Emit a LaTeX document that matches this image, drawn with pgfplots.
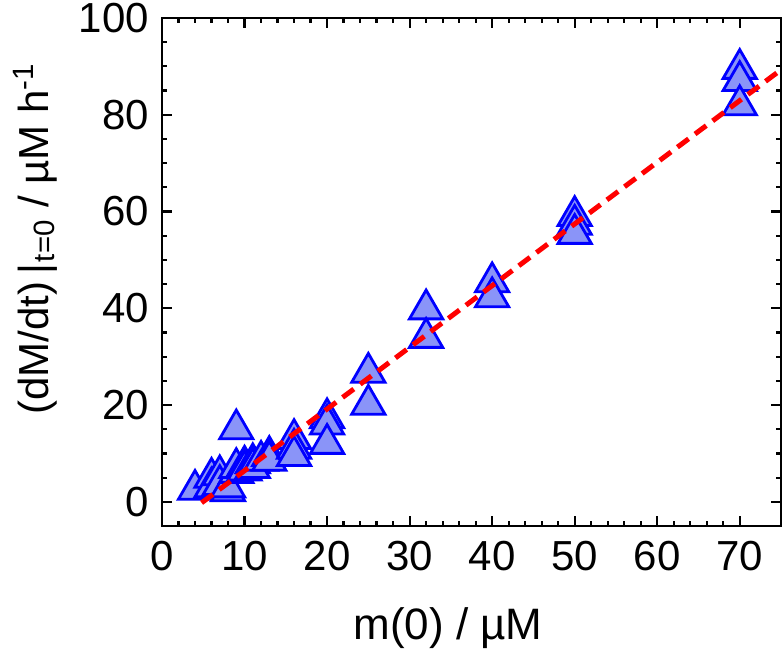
\documentclass[border=0pt]{standalone}
\usepackage{pgfplots}
\pgfplotsset{compat=1.18}
\usepackage{fontspec}
\setmainfont{Liberation Sans}
\definecolor{trifill}{RGB}{138,148,248}
\begin{document}
\begin{tikzpicture}
\begin{axis}[
  scale only axis,
  width=309.5pt, height=254pt,
  xmin=0, xmax=75, ymin=-5, ymax=100,
  xtick={0,10,...,70}, ytick={0,20,...,100},
  minor x tick num=4, minor y tick num=3,
  tick align=inside,
  major tick length=5pt, minor tick length=2.5pt,
  axis line style={line width=1.2pt},
  every tick/.style={black, line width=1.1pt},
  /pgf/number format/assume math mode=true,
  tick label style={font=\fontsize{21}{25}\selectfont},
  xticklabel style={yshift=-4pt},
  yticklabel style={xshift=-3pt},
  label style={font=\fontsize{21}{25}\selectfont},
  xlabel={m(0) / µM},
  xlabel style={font=\fontsize{22}{26}\selectfont, at={(axis description cs:0.462,0)}, anchor=center, yshift=-51pt},
  ylabel={(dM/dt)\,|\textsubscript{\kern1pt t=0} / µM h\textsuperscript{-1}},
  ylabel style={at={(axis description cs:-0.205,0.565)}, anchor=center},
  clip=false,
  clip marker paths=true,
]
\addplot[only marks, mark=triangle*, mark size=9.6pt,
  mark options={draw=blue, fill=trifill, line width=1.4pt}]
  coordinates {
  (4,2.5) (6,5) (6,3) (7,5.5) (7,3.5) (8,2.2) (8,3) (9,15) (9,6) (9,7)
  (10,7.5) (10,6.5) (11,8) (11,7) (12,8.5) (13,9.5) (13,8.5)
  (16,13) (16,11) (16,9.5) (20,17.3) (20,16) (20,12)
  (25,26.7) (25,20.1) (32,39.8) (32,33.9) (40,45.4) (40,42.3)
  (50,59.1) (50,57.3) (50,55.4) (70,89.5) (70,87) (70,82)
  };
\addplot[red, line width=2.5pt, dash pattern=on 7pt off 4pt]
  coordinates {(4.8,-0.2) (75,89.3)};
\end{axis}
\pgfresetboundingbox
\path (current axis.south west) ++(-81pt,-65.5pt) coordinate (bl);
\path (current axis.north east) ++(1pt,9pt) coordinate (tr);
\useasboundingbox (bl) rectangle (tr);
\end{tikzpicture}
\end{document}
